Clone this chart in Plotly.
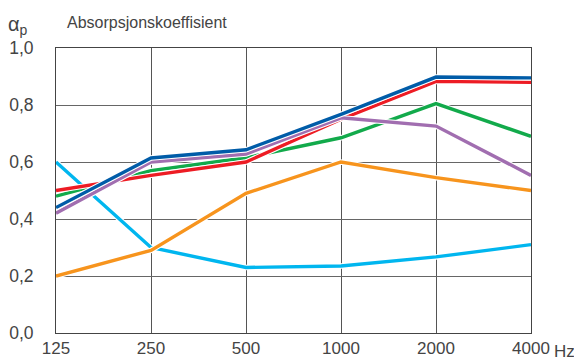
import plotly.graph_objects as go

freqs = ["125", "250", "500", "1000", "2000", "4000"]
light_blue = [0.60, 0.30, 0.23, 0.235, 0.267, 0.31]
orange = [0.20, 0.29, 0.49, 0.60, 0.545, 0.50]
green = [0.48, 0.57, 0.615, 0.685, 0.805, 0.69]
red = [0.50, 0.553, 0.60, 0.75, 0.883, 0.88]
purple = [0.42, 0.60, 0.628, 0.755, 0.726, 0.553]
dark_blue = [0.44, 0.614, 0.643, 0.767, 0.898, 0.895]

series = [
    (light_blue, "#00b6ef"),
    (orange, "#f7941d"),
    (green, "#12aa4b"),
    (red, "#ed1c24"),
    (purple, "#a16eb0"),
    (dark_blue, "#005ca8"),
]

fig = go.Figure()
for vals, col in series:
    fig.add_trace(go.Scatter(x=freqs, y=vals, mode="lines",
                             line=dict(color="white", width=5.5),
                             hoverinfo="skip", showlegend=False))
    fig.add_trace(go.Scatter(x=freqs, y=vals, mode="lines",
                             line=dict(color=col, width=3.4),
                             showlegend=False))

font_family = "Liberation Sans, Arial, sans-serif"
txt_col = "#444444"
fig.update_layout(
    width=574, height=352,
    margin=dict(l=48, r=51, t=40, b=27, autoexpand=False),
    plot_bgcolor="white", paper_bgcolor="white",
    separators=",.",
    font=dict(family=font_family, color=txt_col, size=18),
    xaxis=dict(type="category", range=[0, 5], showgrid=True, gridcolor="#555",
               gridwidth=1, showline=True, linecolor="#444", linewidth=1,
               mirror=True, ticks="", tickfont=dict(size=17), zeroline=False,
               automargin=False, ticklabelstandoff=0),
    yaxis=dict(range=[0, 1], dtick=0.2, tickformat=".1f", showgrid=True,
               gridcolor="#666", gridwidth=1, showline=True, linecolor="#444",
               linewidth=1, mirror=True, ticks="", ticklabelstandoff=18,
               tickfont=dict(size=17.5), zeroline=False, automargin=False),
    annotations=[
        dict(text="Hz", xref="paper", yref="paper", x=1.0, y=0, xshift=21,
             yshift=-7, xanchor="left", yanchor="top", showarrow=False,
             font=dict(size=17, family=font_family, color=txt_col)),
        dict(text="α<sub>p</sub>", xref="paper", yref="paper", x=0, xshift=-50,
             y=1, yshift=8, xanchor="left", yanchor="bottom", showarrow=False,
             font=dict(size=20, family=font_family, color=txt_col)),
        dict(text="Absorpsjonskoeffisient", xref="paper", yref="paper", x=0,
             xshift=9, y=1, yshift=15, xanchor="left", yanchor="bottom",
             showarrow=False,
             font=dict(size=16, family=font_family, color=txt_col)),
    ],
)

fig.write_html("out.html")
